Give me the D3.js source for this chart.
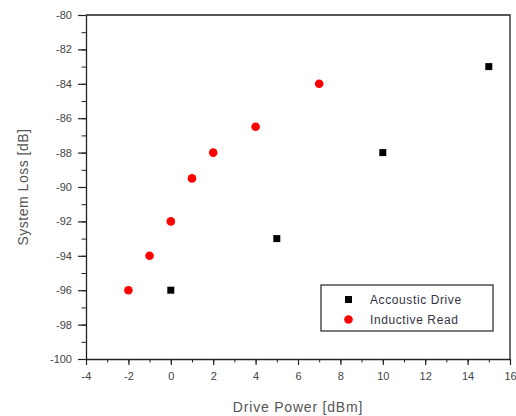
<!DOCTYPE html>
<html>
<head>
<meta charset="utf-8">
<script src="https://cdn.jsdelivr.net/npm/d3@7"></script>
<style>
  body { margin: 0; background: #fff; }
  svg { font-family: "Liberation Sans", Arial, sans-serif; }
</style>
</head>
<body>
<svg id="chart"></svg>
<script>
// Data
const acousticX = [0, 5, 10, 15];
const acousticY = [-96, -93, -88, -83];
const inductiveX = [-2, -1, 0, 1, 2, 4, 7];
const inductiveY = [-96, -94, -92, -89.5, -88, -86.5, -84];
const seriesNames = ["Accoustic Drive", "Inductive Read"];
const xTicks = [-4, -2, 0, 2, 4, 6, 8, 10, 12, 14, 16];
const yTicks = [-100, -98, -96, -94, -92, -90, -88, -86, -84, -82, -80];

const width = 516;
const height = 416;
const plotLeft = 86, plotRight = 510, plotTop = 15, plotBottom = 359;

const svg = d3.select("#chart")
    .attr("width", width)
    .attr("height", height);

const x = d3.scaleLinear().domain([-4, 16]).range([plotLeft, plotRight]);
const y = d3.scaleLinear().domain([-100, -80]).range([plotBottom, plotTop]);

// frame top/right
svg.append("path")
    .attr("d", `M${plotLeft},${plotTop}H${plotRight}V${plotBottom}`)
    .attr("fill", "none")
    .attr("stroke", "#222")
    .attr("stroke-width", 1.3);

// minor ticks
const xMinor = d3.range(-4, 16.01, 1);
const yMinor = d3.range(-100, -79.99, 1);

svg.append("g")
    .attr("transform", `translate(0,${plotBottom})`)
    .call(d3.axisBottom(x).tickValues(xMinor).tickSize(3.5).tickFormat(""))
    .call(g => g.select(".domain").remove())
    .selectAll("line").attr("stroke", "#222");

svg.append("g")
    .attr("transform", `translate(${plotLeft},0)`)
    .call(d3.axisLeft(y).tickValues(yMinor).tickSize(4.5).tickFormat(""))
    .call(g => g.select(".domain").remove())
    .selectAll("line").attr("stroke", "#222");

// major axes
const xAxis = svg.append("g")
    .attr("transform", `translate(0,${plotBottom})`)
    .call(d3.axisBottom(x).tickValues(xTicks).tickSize(6).tickSizeOuter(0).tickPadding(7));
const yAxis = svg.append("g")
    .attr("transform", `translate(${plotLeft},0)`)
    .call(d3.axisLeft(y).tickValues(yTicks).tickSize(8).tickSizeOuter(0).tickPadding(6));

[xAxis, yAxis].forEach(g => {
    g.attr("font-family", "Liberation Sans, Arial, sans-serif").attr("font-size", 11);
    g.select(".domain").attr("stroke", "#222").attr("stroke-width", 1.3);
    g.selectAll(".tick line").attr("stroke", "#222").attr("stroke-width", 1.2);
    g.selectAll("text")
        .attr("fill", "#444")
        .text(d => String(d));
});

// axis titles
svg.append("text")
    .attr("x", (plotLeft + plotRight) / 2)
    .attr("y", 412)
    .attr("text-anchor", "middle")
    .attr("fill", "#555")
    .style("font-size", "14px")
    .style("letter-spacing", "0.8px")
    .text("Drive Power [dBm]");

svg.append("text")
    .attr("transform", `translate(28,${(plotTop + plotBottom) / 2}) rotate(-90)`)
    .attr("text-anchor", "middle")
    .attr("fill", "#555")
    .style("font-size", "14px")
    .style("letter-spacing", "0.5px")
    .text("System Loss [dB]");

// markers
const acoustic = acousticX.map((v, i) => ({x: v, y: acousticY[i]}));
const inductive = inductiveX.map((v, i) => ({x: v, y: inductiveY[i]}));

svg.append("g").selectAll("circle")
    .data(inductive)
    .join("circle")
    .attr("cx", d => x(d.x))
    .attr("cy", d => y(d.y))
    .attr("r", 4.3)
    .attr("fill", "#f00");

svg.append("g").selectAll("rect")
    .data(acoustic)
    .join("rect")
    .attr("x", d => x(d.x) - 3.5)
    .attr("y", d => y(d.y) - 3.5)
    .attr("width", 7)
    .attr("height", 7)
    .attr("fill", "#000");

// legend
const legend = svg.append("g").attr("transform", "translate(321,285)");
legend.append("rect")
    .attr("width", 172)
    .attr("height", 46)
    .attr("fill", "#fff")
    .attr("stroke", "#333")
    .attr("stroke-width", 1.3);

legend.append("rect")
    .attr("x", 24).attr("y", 11)
    .attr("width", 7).attr("height", 7)
    .attr("fill", "#000");
legend.append("circle")
    .attr("cx", 27.5).attr("cy", 34.5)
    .attr("r", 4.3)
    .attr("fill", "#f00");

legend.selectAll("text.lbl")
    .data(seriesNames)
    .join("text")
    .attr("class", "lbl")
    .attr("x", 49)
    .attr("y", (d, i) => 15 + i * 20)
    .attr("dy", "0.35em")
    .attr("fill", "#334")
    .style("font-size", "12px")
    .style("letter-spacing", "0.6px")
    .text(d => d);
</script>
</body>
</html>
